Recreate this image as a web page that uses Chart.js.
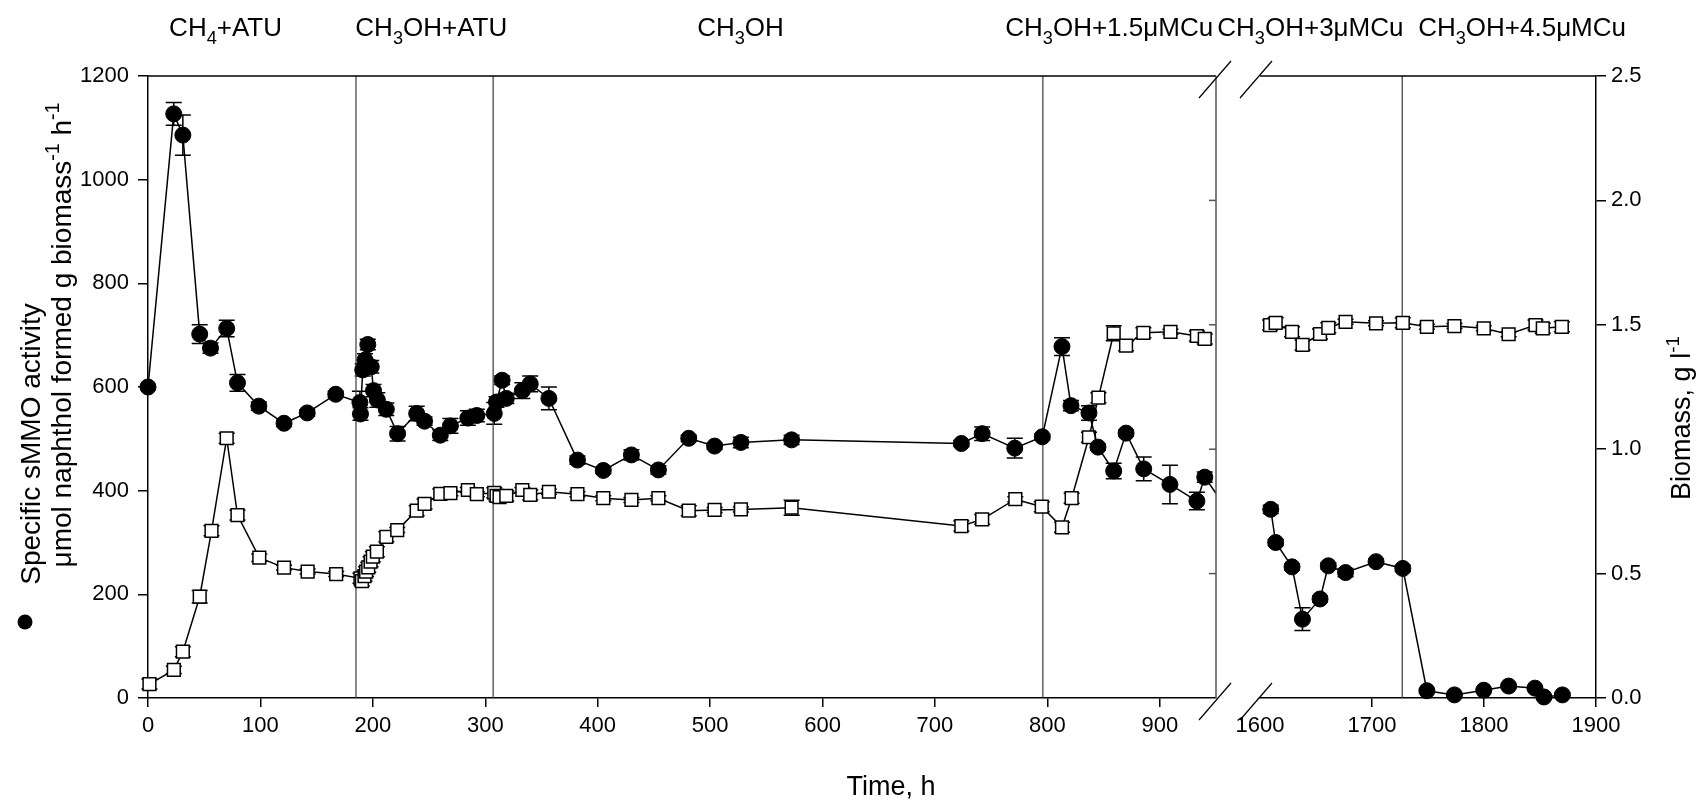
<!DOCTYPE html>
<html>
<head>
<meta charset="utf-8">
<script src="https://cdn.jsdelivr.net/npm/chart.js@4.4.1/dist/chart.umd.min.js"></script>
<style>
  html, body { margin: 0; padding: 0; background: #fff; }
  #wrap { position: relative; width: 1708px; height: 804px; }
  canvas { position: absolute; top: 0; }
  #left { left: 0; }
  #right { left: 1180px; }
</style>
</head>
<body>
<div id="wrap">
  <canvas id="left" width="1238" height="804"></canvas>
  <canvas id="right" width="528" height="804"></canvas>
</div>
<script>
const FONT = '"Liberation Sans", Arial, sans-serif';

// ---- first run, 0-950 h ----
const actTime1 = [0, 22.9, 31, 46, 55.6, 70, 79.6, 98.6, 121, 141.6, 167, 188.5, 189, 191, 193, 195.5, 198.6, 200.6, 204,
  212, 222, 239, 246, 260, 269, 284.5, 292.5, 308, 310, 315, 318.7, 333, 340, 356.6, 382, 405, 430, 454, 481, 504, 527.4,
  572.5, 723.5, 742, 771, 795.5, 813, 821, 837, 845, 859, 870, 885.7, 909, 933, 940, 958];
const activity1 = [600, 1127, 1086, 702, 675, 713, 608, 563, 530, 550, 586, 570, 548, 633, 652, 682, 639, 593, 575,
  557, 510, 549, 534, 507, 525, 540, 545, 549, 571, 613, 578, 593, 606, 578, 459, 439, 469, 440, 501, 486, 493,
  498, 491, 510, 482, 504, 678, 564, 550, 484, 438, 511, 442, 412, 380, 426, 370];
const activityErr1 = [5, 22, 39, 18, 10, 16, 16, 8, 6, 6, 6, 22, 12, 12, 12, 10, 12, 12, 14,
  12, 14, 14, 8, 10, 14, 14, 12, 21, 10, 8, 10, 15, 15, 22, 8, 6, 10, 8, 6, 6, 10,
  9, 6, 13, 19, 6, 17, 10, 14, 6, 15, 6, 23, 37, 17, 10, 0];

const bioTime1 = [1.3, 23, 31, 46, 56.5, 70, 79.6, 99, 121, 142, 167.4, 189, 190.3, 192.6, 194, 195.9, 198, 200, 203.6,
  212, 221.7, 239, 246, 260, 269, 284.5, 292.5, 308, 310, 312.7, 318.7, 333, 340, 356.6, 382, 405, 430, 454, 481, 504,
  527.4, 572.5, 723.5, 742, 771.5, 795, 813, 821.6, 837, 845.4, 859, 870, 885.4, 909.5, 933, 940];
const biomass1 = [0.056, 0.113, 0.186, 0.407, 0.672, 1.044, 0.735, 0.564, 0.524, 0.508, 0.498, 0.481, 0.470, 0.490, 0.508,
  0.525, 0.548, 0.568, 0.588, 0.648, 0.675, 0.753, 0.780, 0.820, 0.823, 0.836, 0.819, 0.825, 0.812, 0.807, 0.812, 0.836,
  0.816, 0.829, 0.819, 0.803, 0.796, 0.803, 0.753, 0.756, 0.758, 0.765, 0.691, 0.718, 0.799, 0.769, 0.686, 0.803, 1.048,
  1.207, 1.466, 1.416, 1.468, 1.472, 1.455, 1.443];
const biomassErr1 = [0.02, 0.015, 0.02, 0.025, 0.02, 0.02, 0.02, 0.015, 0.01, 0.01, 0.01, 0.02, 0.02, 0.02, 0.02, 0.02,
  0.02, 0.02, 0.02, 0.02, 0.01, 0.02, 0.02, 0.02, 0.01, 0.01, 0.01, 0.02, 0.02, 0.02, 0.02, 0.01, 0.02, 0.01, 0.01, 0.01,
  0.01, 0.01, 0.02, 0.01, 0.01, 0.03, 0.02, 0.02, 0.01, 0.02, 0.02, 0.02, 0.02, 0.02, 0.03, 0.02, 0.02, 0.01, 0.02, 0.02];

// ---- second run, 1600-1900 h ----
const actTime2 = [1609.6, 1614, 1628.6, 1637.9, 1653.6, 1661, 1676.4, 1703.6, 1727.5, 1749, 1773.6, 1799.8, 1822, 1845.5, 1853.5, 1870];
const activity2 = [364, 300, 253, 152, 191, 255, 242, 263, 250, 14, 6, 15, 23, 19, 2, 6];
const activityErr2 = [8, 6, 6, 22, 6, 6, 8, 5, 6, 4, 3, 3, 3, 3, 3, 3];

const bioTime2 = [1609, 1614, 1628.6, 1638, 1653.6, 1661, 1676.4, 1703.6, 1727.5, 1749, 1773.6, 1799.8, 1822, 1846, 1852.5, 1869.5];
const biomass2 = [1.499, 1.508, 1.472, 1.419, 1.463, 1.488, 1.512, 1.506, 1.508, 1.492, 1.495, 1.486, 1.462, 1.499, 1.486, 1.492];
const biomassErr2 = [0.02, 0.02, 0.02, 0.02, 0.02, 0.02, 0.01, 0.01, 0.02, 0.01, 0.01, 0.01, 0.01, 0.02, 0.02, 0.02];

// axes
const xTicksLeft = [0, 100, 200, 300, 400, 500, 600, 700, 800, 900];
const xTicksRight = [1600, 1700, 1800, 1900];
const activityTicks = [0, 200, 400, 600, 800, 1000, 1200];
const biomassTicks = [0, 0.5, 1.0, 1.5, 2.0, 2.5];

// culture conditions
const phaseLines = [185, 307, 796, 1727];
const phaseLabels = [
  { t: 69, parts: [['CH'], ['4', 'sub'], ['+ATU']] },
  { t: 252, parts: [['CH'], ['3', 'sub'], ['OH+ATU']] },
  { t: 527, parts: [['CH'], ['3', 'sub'], ['OH']] },
  { t: 855, parts: [['CH'], ['3', 'sub'], ['OH+1.5\u03bcMCu']] },
  { t: 1645, parts: [['CH'], ['3', 'sub'], ['OH+3\u03bcMCu']] },
  { t: 1834, parts: [['CH'], ['3', 'sub'], ['OH+4.5\u03bcMCu']] }
];

function pts(xs, ys) {
  return xs.map((t, i) => ({ x: t, y: ys[i] }));
}

function richWidth(ctx, parts, size) {
  let w = 0;
  parts.forEach(p => {
    ctx.font = (p[1] ? size * 0.7 : size) + 'px ' + FONT;
    w += ctx.measureText(p[0]).width;
  });
  return w;
}

function drawRich(ctx, parts, x, y, size, align) {
  const w = richWidth(ctx, parts, size);
  let cx = align === 'center' ? x - w / 2 : (align === 'right' ? x - w : x);
  ctx.textAlign = 'left';
  ctx.textBaseline = 'alphabetic';
  parts.forEach(p => {
    ctx.font = (p[1] ? size * 0.7 : size) + 'px ' + FONT;
    let dy = 0;
    if (p[1] === 'sub') dy = size * 0.3;
    if (p[1] === 'sup') dy = -size * 0.42;
    ctx.fillText(p[0], cx, y + dy);
    cx += ctx.measureText(p[0]).width;
  });
}

function drawRotated(ctx, parts, cx, cy, size) {
  ctx.save();
  ctx.translate(cx, cy);
  ctx.rotate(-Math.PI / 2);
  drawRich(ctx, parts, 0, size * 0.35, size, 'center');
  ctx.restore();
}

// vertical error bars, read from dataset.errors
const errorBars = {
  id: 'errorBars',
  beforeDatasetsDraw(chart) {
    const { ctx, chartArea: a, scales } = chart;
    const isLeft = chart.canvas.id === 'left';
    ctx.save();
    ctx.beginPath();
    ctx.rect(a.left - 14, a.top - 14, a.right - a.left + (isLeft ? 14 : 28), a.bottom - a.top + 28);
    ctx.clip();
    ctx.strokeStyle = '#000';
    ctx.lineWidth = 1.5;
    chart.data.datasets.forEach(ds => {
      if (!ds.errors) return;
      const ys = scales[ds.yAxisID];
      ds.data.forEach((p, j) => {
        const e = ds.errors[j];
        if (!e) return;
        const px = scales.x.getPixelForValue(p.x);
        const y1 = ys.getPixelForValue(p.y + e);
        const y2 = ys.getPixelForValue(p.y - e);
        ctx.beginPath();
        ctx.moveTo(px, y1); ctx.lineTo(px, y2);
        ctx.moveTo(px - 8, y1); ctx.lineTo(px + 8, y1);
        ctx.moveTo(px - 8, y2); ctx.lineTo(px + 8, y2);
        ctx.stroke();
      });
    });
    ctx.restore();
  }
};

const decor = {
  id: 'decor',
  beforeDatasetsDraw(chart) {
    const { ctx, chartArea: a, scales } = chart;
    const x = scales.x;
    ctx.save();
    ctx.strokeStyle = '#3a3a3a';
    ctx.lineWidth = 1.2;
    phaseLines.forEach(t => {
      if (t <= x.min || t >= x.max) return;
      const px = x.getPixelForValue(t);
      ctx.beginPath(); ctx.moveTo(px, a.top); ctx.lineTo(px, a.bottom); ctx.stroke();
    });
    ctx.restore();
  },
  afterDraw(chart) {
    const { ctx, chartArea: a, scales } = chart;
    const x = scales.x;
    const isLeft = chart.canvas.id === 'left';
    ctx.save();
    ctx.fillStyle = '#000';
    ctx.strokeStyle = '#000';

    phaseLabels.forEach(l => {
      if (l.t < x.min || l.t > x.max) return;
      drawRich(ctx, l.parts, x.getPixelForValue(l.t), 36, 26, 'center');
    });

    // frame top
    ctx.lineWidth = 1.5;
    ctx.beginPath(); ctx.moveTo(a.left, a.top); ctx.lineTo(a.right, a.top); ctx.stroke();
    if (isLeft) {
      ctx.strokeStyle = '#555';
      ctx.beginPath(); ctx.moveTo(a.right, a.top); ctx.lineTo(a.right, a.bottom); ctx.stroke();
      // faint inner ticks of the biomass scale on the panel edge
      const yb = scales.yB;
      biomassTicks.forEach(v => {
        if (v <= 0 || v >= 2.5) return;
        const py = yb.getPixelForValue(v);
        ctx.beginPath(); ctx.moveTo(a.right - 7, py); ctx.lineTo(a.right, py); ctx.stroke();
      });
      ctx.strokeStyle = '#000';
    }

    // axis break marks
    ctx.lineWidth = 1.2;
    const sx = isLeft ? a.right + 2 : a.left - 1;
    [a.top, a.bottom].forEach(y => {
      ctx.beginPath(); ctx.moveTo(sx - 19, y + 22); ctx.lineTo(sx + 13, y - 15); ctx.stroke();
    });

    if (isLeft) {
      drawRotated(ctx, [['Specific sMMO activity']], 30, 444, 28);
      drawRotated(ctx, [['\u03bcmol naphthol formed g biomass'], ['-1', 'sup'], [' h'], ['-1', 'sup']], 61, 335, 28);
      ctx.beginPath(); ctx.arc(25, 622, 7.5, 0, Math.PI * 2); ctx.fill();
      drawRich(ctx, [['Time, h']], 891, 795, 27, 'center');
    } else {
      drawRotated(ctx, [['Biomass, g l'], ['-1', 'sup']], 1681 - 1180, 418, 27);
    }
    ctx.restore();
  }
};

function seriesSets(actT, act, actErr, bioT, bio, bioErr, clip) {
  return [
    {
      label: 'Specific sMMO activity',
      data: pts(actT, act), errors: actErr, yAxisID: 'yA',
      borderColor: '#000', borderWidth: 1.5, tension: 0,
      pointStyle: 'circle', pointRadius: 8, pointBackgroundColor: '#000', pointBorderColor: '#000', pointBorderWidth: 1,
      clip: clip
    },
    {
      label: 'Biomass',
      data: pts(bioT, bio), errors: bioErr, yAxisID: 'yB',
      borderColor: '#000', borderWidth: 1.5, tension: 0,
      pointStyle: 'rect', pointRadius: 9, pointBackgroundColor: '#fff', pointBorderColor: '#000', pointBorderWidth: 1.5,
      clip: clip
    }
  ];
}

const tickFont = { size: 22, family: FONT };

new Chart(document.getElementById('left'), {
  type: 'line',
  data: { datasets: seriesSets(actTime1, activity1, activityErr1, bioTime1, biomass1, biomassErr1,
    { left: 14, top: 14, right: 0, bottom: 14 }) },
  options: {
    responsive: false, animation: false, devicePixelRatio: 1,
    layout: { padding: { left: 0, right: 22, top: 76, bottom: 0 } },
    plugins: { legend: { display: false }, tooltip: { enabled: false } },
    scales: {
      x: {
        type: 'linear', min: 0, max: 950,
        afterFit(s) { s.height = 106; },
        afterBuildTicks(s) { s.ticks = xTicksLeft.map(v => ({ value: v })); },
        ticks: { font: tickFont, color: '#000', padding: 6, maxRotation: 0, callback: v => String(v) },
        grid: { drawOnChartArea: false, tickLength: 9, color: '#000', lineWidth: 1.5 },
        border: { color: '#000', width: 1.5 }
      },
      yA: {
        position: 'left', min: 0, max: 1200,
        afterFit(s) { s.width = 148; },
        afterBuildTicks(s) { s.ticks = activityTicks.map(v => ({ value: v })); },
        ticks: { font: tickFont, color: '#000', padding: 9, callback: v => String(v) },
        grid: { drawOnChartArea: false, tickLength: 10, color: '#000', lineWidth: 1.5 },
        border: { color: '#000', width: 1.5 }
      },
      yB: { display: false, min: 0, max: 2.5 }
    }
  },
  plugins: [errorBars, decor]
});

new Chart(document.getElementById('right'), {
  type: 'line',
  data: { datasets: seriesSets(actTime2, activity2, activityErr2, bioTime2, biomass2, biomassErr2,
    { left: 14, top: 14, right: 14, bottom: 14 }) },
  options: {
    responsive: false, animation: false, devicePixelRatio: 1,
    layout: { padding: { left: 80, right: 0, top: 76, bottom: 0 } },
    plugins: { legend: { display: false }, tooltip: { enabled: false } },
    scales: {
      x: {
        type: 'linear', min: 1600, max: 1900,
        afterFit(s) { s.height = 106; },
        afterBuildTicks(s) { s.ticks = xTicksRight.map(v => ({ value: v })); },
        ticks: { font: tickFont, color: '#000', padding: 6, maxRotation: 0, callback: v => String(v) },
        grid: {
          drawOnChartArea: false, tickLength: 9, lineWidth: 1.5,
          color: c => (c.tick && c.tick.value === 1600) ? 'rgba(0,0,0,0)' : '#000'
        },
        border: { color: '#000', width: 1.5 }
      },
      yA: { display: false, min: 0, max: 1200 },
      yB: {
        position: 'right', min: 0, max: 2.5,
        afterFit(s) { s.width = 112; },
        afterBuildTicks(s) { s.ticks = biomassTicks.map(v => ({ value: v })); },
        ticks: { font: tickFont, color: '#000', padding: 5, callback: v => v.toFixed(1) },
        grid: { drawOnChartArea: false, tickLength: 10, color: '#000', lineWidth: 1.5 },
        border: { color: '#000', width: 1.5 }
      }
    }
  },
  plugins: [errorBars, decor]
});
</script>
</body>
</html>
